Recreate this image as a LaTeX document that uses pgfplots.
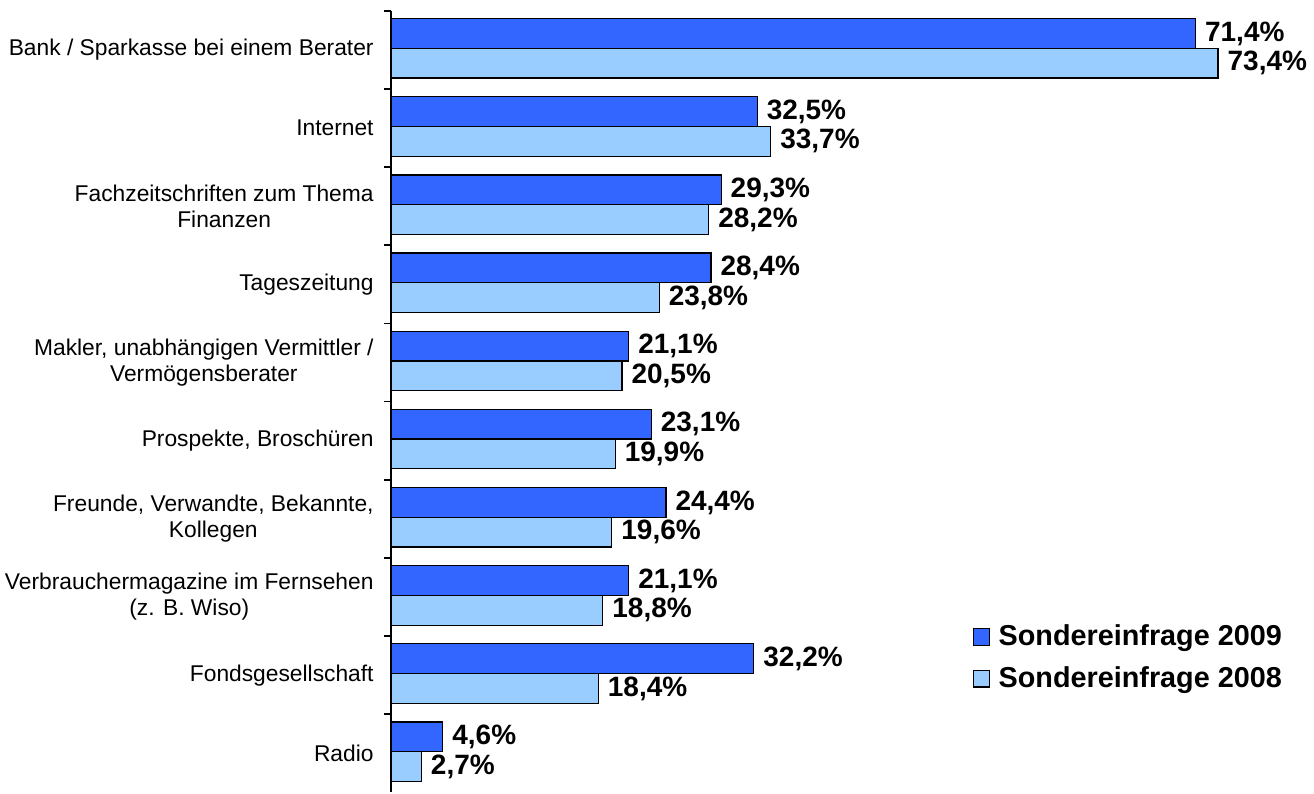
\documentclass[border=0pt]{standalone}
\usepackage{pgfplots}
\pgfplotsset{compat=1.18}
\usepackage{fontspec}
\setmainfont{Liberation Sans}
\definecolor{dark}{HTML}{3366FF}
\definecolor{light}{HTML}{99CCFF}
\pgfplotsset{sqlegend/.style={legend image code/.code={\draw[##1] (0pt,-4.2pt) rectangle (8.4pt,4.2pt); \path (10.5pt,0pt);}}}

% 2009 series at i-0.21, 2008 series at i+0.17
\pgfplotstableread{
y x
-0.21 71.4
0.79 32.5
1.79 29.3
2.79 28.4
3.79 21.1
4.79 23.1
5.79 24.4
6.79 21.1
7.79 32.2
8.79 4.6
}\dataA
\pgfplotstableread{
y x
0.17 73.4
1.17 33.7
2.17 28.2
3.17 23.8
4.17 20.5
5.17 19.9
6.17 19.6
7.17 18.8
8.17 18.4
9.17 2.7
}\dataB

\begin{document}
\begin{tikzpicture}
\begin{axis}[
    scale only axis,
    width=451pt, height=391pt,
    xbar, bar width=0.38, bar shift=0pt,
    xmin=0, xmax=80,
    ymin=-0.5, ymax=9.5,
    y dir=reverse,
    axis x line=none,
    axis y line*=left,
    axis line style={-, black, line width=0.8pt},
    ytick={0,...,9},
    yticklabels={
        Bank / Sparkasse bei einem Berater,
        Internet,
        Fachzeitschriften zum Thema\\Finanzen,
        Tageszeitung,
        {Makler, unabhängigen Vermittler /\\Vermögensberater},
        {Prospekte, Broschüren},
        {Freunde, Verwandte, Bekannte,\\Kollegen},
        Verbrauchermagazine im Fernsehen\\(z. B. Wiso),
        Fondsgesellschaft,
        Radio},
    yticklabel style={align=center, font=\fontsize{11.4pt}{13pt}\selectfont, inner sep=0pt, xshift=-8.5pt},
    major tick length=0pt,
    minor ytick={-0.5,0.5,...,8.5},
    minor tick length=3.5pt,
    tick align=outside,
    tick style={black, line width=0.8pt},
    clip=false,
    nodes near coords={\pgfmathprintnumber[fixed, fixed zerofill, precision=1, use comma, assume math mode=true]{\pgfplotspointmeta}\%},
    point meta=x,
    every node near coord/.append style={font=\fontsize{14pt}{16pt}\bfseries\selectfont, anchor=west, inner sep=0pt, xshift=4.5pt},
    legend style={at={(0.638,0.225)}, anchor=north west, draw=none, fill=none,
        font=\fontsize{14.4pt}{16pt}\bfseries\selectfont, row sep=5pt},
    legend cell align=left,
]
\addplot[fill=dark, draw=black, line width=0.6pt, sqlegend]
    table[x=x, y=y] {\dataA};
\addlegendentry{Sondereinfrage 2009}
\addplot[fill=light, draw=black, line width=0.6pt, sqlegend]
    table[x=x, y=y] {\dataB};
\addlegendentry{Sondereinfrage 2008}
\end{axis}
\path (current bounding box.north west) ++(-2.5pt,5pt) coordinate (nw);
\path (current bounding box.south east) ++(3.5pt,0pt) coordinate (se);
\path (nw) rectangle (se);
\end{tikzpicture}
\end{document}
